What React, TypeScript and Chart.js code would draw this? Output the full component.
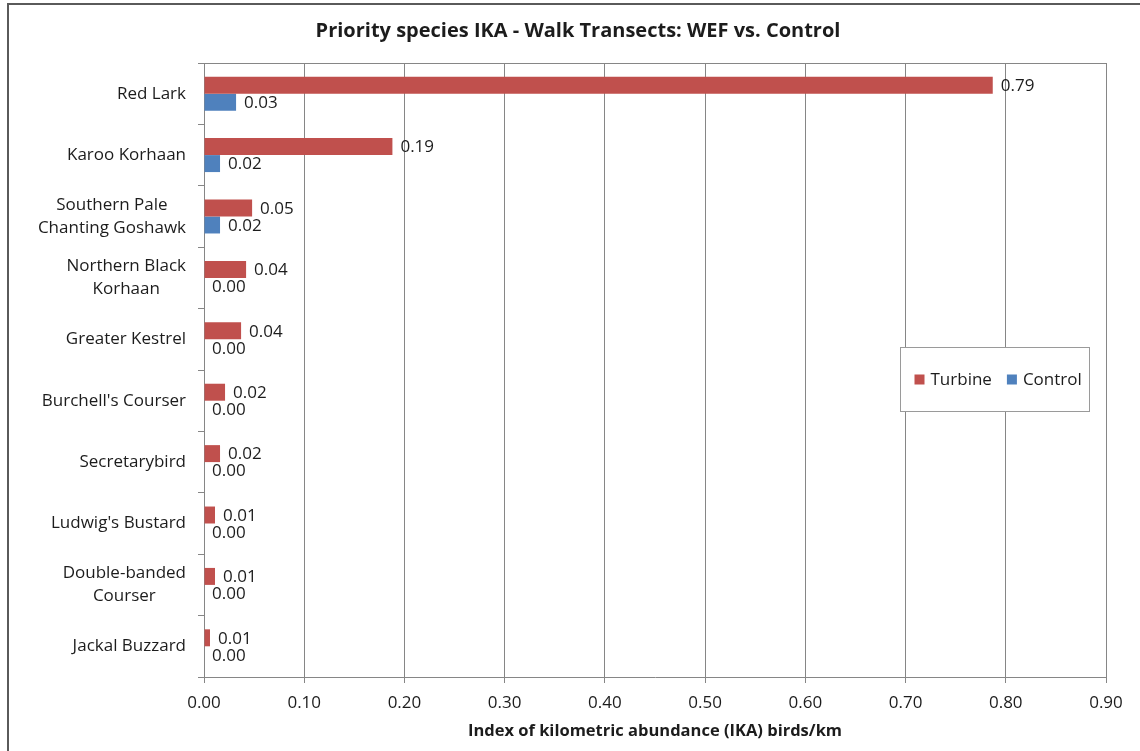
import React, { useEffect, useRef } from "react";
import { Chart, registerables } from "chart.js";

Chart.register(...registerables);

// Species shown on the category axis (top to bottom); arrays are wrapped lines
const species: (string | string[])[] = [
  "Red Lark",
  "Karoo Korhaan",
  ["Southern Pale", "Chanting Goshawk"],
  ["Northern Black", "Korhaan"],
  "Greater Kestrel",
  "Burchell's Courser",
  "Secretarybird",
  "Ludwig's Bustard",
  ["Double-banded", "Courser"],
  "Jackal Buzzard",
];

// IKA (birds/km) per species
const turbine = [0.787, 0.188, 0.048, 0.042, 0.037, 0.021, 0.016, 0.011, 0.011, 0.006];
const control = [0.032, 0.016, 0.016, 0, 0, 0, 0, 0, 0, 0];

const seriesNames = ["Turbine", "Control"];
const seriesColors = ["#C0504D", "#4F81BD"];

// Value axis range and tick step
const xMin = 0;
const xMax = 0.9;
const xStep = 0.1;

const chartTitle = "Priority species IKA - Walk Transects: WEF vs. Control";
const xTitle = "Index of kilometric abundance (IKA) birds/km";

const FONT = "'Open Sans', sans-serif";
const TEXT = "#1c1c1c";
const GRID = "#868686";

// Top edge of the plot frame
const plotFrame = {
  id: "plotFrame",
  beforeDatasetsDraw(chart: any) {
    const { ctx, chartArea } = chart;
    ctx.save();
    ctx.strokeStyle = GRID;
    ctx.lineWidth = 1;
    ctx.beginPath();
    ctx.moveTo(chartArea.left, Math.round(chartArea.top) + 0.5);
    ctx.lineTo(chartArea.right, Math.round(chartArea.top) + 0.5);
    ctx.stroke();
    ctx.restore();
  },
};

// Value labels to the right of each bar
const valueLabels = {
  id: "valueLabels",
  afterDatasetsDraw(chart: any) {
    const { ctx } = chart;
    ctx.save();
    ctx.font = `17px ${FONT}`;
    ctx.fillStyle = TEXT;
    ctx.textAlign = "left";
    ctx.textBaseline = "middle";
    chart.data.datasets.forEach((ds: any, di: number) => {
      const meta = chart.getDatasetMeta(di);
      meta.data.forEach((el: any, i: number) => {
        const v = ds.data[i] as number;
        ctx.fillText(v.toFixed(2), el.x + 8, el.y + 1);
      });
    });
    ctx.restore();
  },
};

// Category labels: block right-aligned to the axis, wrapped lines centred
const categoryLabels = {
  id: "categoryLabels",
  afterDraw(chart: any) {
    const { ctx, chartArea } = chart;
    const yScale = chart.scales.y;
    const right = chartArea.left - 18;
    const lineH = 23;
    ctx.save();
    ctx.font = `17px ${FONT}`;
    ctx.fillStyle = TEXT;
    ctx.textAlign = "center";
    ctx.textBaseline = "middle";
    (chart.data.labels as (string | string[])[]).forEach((lab, i) => {
      const lines = Array.isArray(lab) ? lab : [lab];
      const w = Math.max(...lines.map((l) => ctx.measureText(l).width));
      const cx = right - w / 2;
      const cy = yScale.getPixelForTick(i);
      lines.forEach((l, k) => {
        ctx.fillText(l, cx, cy + (k - (lines.length - 1) / 2) * lineH);
      });
    });
    ctx.restore();
  },
};

// Boxed legend placed inside the plot area
const boxLegend = {
  id: "boxLegend",
  afterDraw(chart: any) {
    const { ctx, chartArea } = chart;
    const w = 189;
    const h = 64;
    const x0 = Math.round(chartArea.right - 17 - w) + 0.5;
    const y0 = Math.round(chartArea.top + 284) + 0.5;
    ctx.save();
    ctx.fillStyle = "#ffffff";
    ctx.fillRect(x0, y0, w, h);
    ctx.strokeStyle = "#9a9a9a";
    ctx.lineWidth = 1;
    ctx.strokeRect(x0, y0, w, h);
    ctx.font = `17px ${FONT}`;
    ctx.textBaseline = "middle";
    ctx.textAlign = "left";
    const cy = y0 + h / 2;
    let x = x0 + 14;
    chart.data.datasets.forEach((ds: any) => {
      ctx.fillStyle = ds.backgroundColor;
      ctx.fillRect(x, cy - 5, 10, 10);
      x += 16;
      ctx.fillStyle = TEXT;
      ctx.fillText(ds.label, x, cy + 1);
      x += ctx.measureText(ds.label).width + 15;
    });
    ctx.restore();
  },
};

export default function App() {
  const canvasRef = useRef<HTMLCanvasElement | null>(null);

  useEffect(() => {
    let chart: Chart | null = null;
    let cancelled = false;

    const build = () => {
      if (cancelled || !canvasRef.current) return;
      chart = new Chart(canvasRef.current, {
        type: "bar",
        data: {
          labels: species as any,
          datasets: [
            {
              label: seriesNames[0],
              data: turbine,
              backgroundColor: seriesColors[0],
              barPercentage: 1,
              categoryPercentage: 0.553,
            },
            {
              label: seriesNames[1],
              data: control,
              backgroundColor: seriesColors[1],
              barPercentage: 1,
              categoryPercentage: 0.553,
            },
          ],
        },
        options: {
          indexAxis: "y",
          responsive: false,
          animation: false,
          layout: { padding: 0 },
          plugins: {
            legend: { display: false },
            tooltip: { enabled: false },
            title: {
              display: true,
              text: chartTitle,
              color: TEXT,
              font: { family: FONT, size: 20, weight: "bold", lineHeight: 1.2 },
              padding: { top: 19, bottom: 20 },
            },
          },
          scales: {
            x: {
              min: xMin,
              max: xMax,
              afterFit: (s: any) => {
                s.height = 74;
              },
              ticks: {
                stepSize: xStep,
                color: TEXT,
                padding: 10,
                font: { family: FONT, size: 17 },
                callback: (v: any) => Number(v).toFixed(2),
              },
              grid: { color: GRID, tickLength: 6, lineWidth: 1 },
              border: { display: true, color: GRID },
              title: {
                display: true,
                text: xTitle,
                color: TEXT,
                font: { family: FONT, size: 16.5, weight: "bold", lineHeight: 1.2 },
                padding: { top: 0, bottom: 10 },
              },
            },
            y: {
              afterFit: (s: any) => {
                s.width = 196;
              },
              ticks: { display: false },
              grid: {
                display: true,
                drawOnChartArea: false,
                drawTicks: true,
                tickLength: 6,
                offset: true,
                color: GRID,
              },
              border: { display: true, color: GRID },
            },
            // empty right-hand margin beside the plot
            yRight: {
              type: "linear",
              position: "right",
              afterFit: (s: any) => {
                s.width = 42;
              },
              ticks: { display: false },
              grid: { display: false, drawTicks: false },
              border: { display: false },
            },
          },
        },
        plugins: [plotFrame, valueLabels, categoryLabels, boxLegend],
      });
    };

    const fontsReady = (document as any).fonts
      ? Promise.all([
          (document as any).fonts.load(`17px 'Open Sans'`),
          (document as any).fonts.load(`bold 20px 'Open Sans'`),
        ]).catch(() => null)
      : Promise.resolve(null);
    fontsReady.then(build);

    return () => {
      cancelled = true;
      if (chart) chart.destroy();
    };
  }, []);

  return (
    <div
      style={{
        position: "fixed",
        inset: 0,
        overflow: "hidden",
        background: "#ffffff",
      }}
    >
      <div
        style={{
          position: "absolute",
          left: 7,
          top: 3,
          width: 1200,
          height: 800,
          border: "2px solid #5a5a5a",
          boxSizing: "border-box",
        }}
      />
      <canvas
        ref={canvasRef}
        width={1140}
        height={751}
        style={{ position: "absolute", left: 8, top: 0, width: 1140, height: 751 }}
      />
    </div>
  );
}
